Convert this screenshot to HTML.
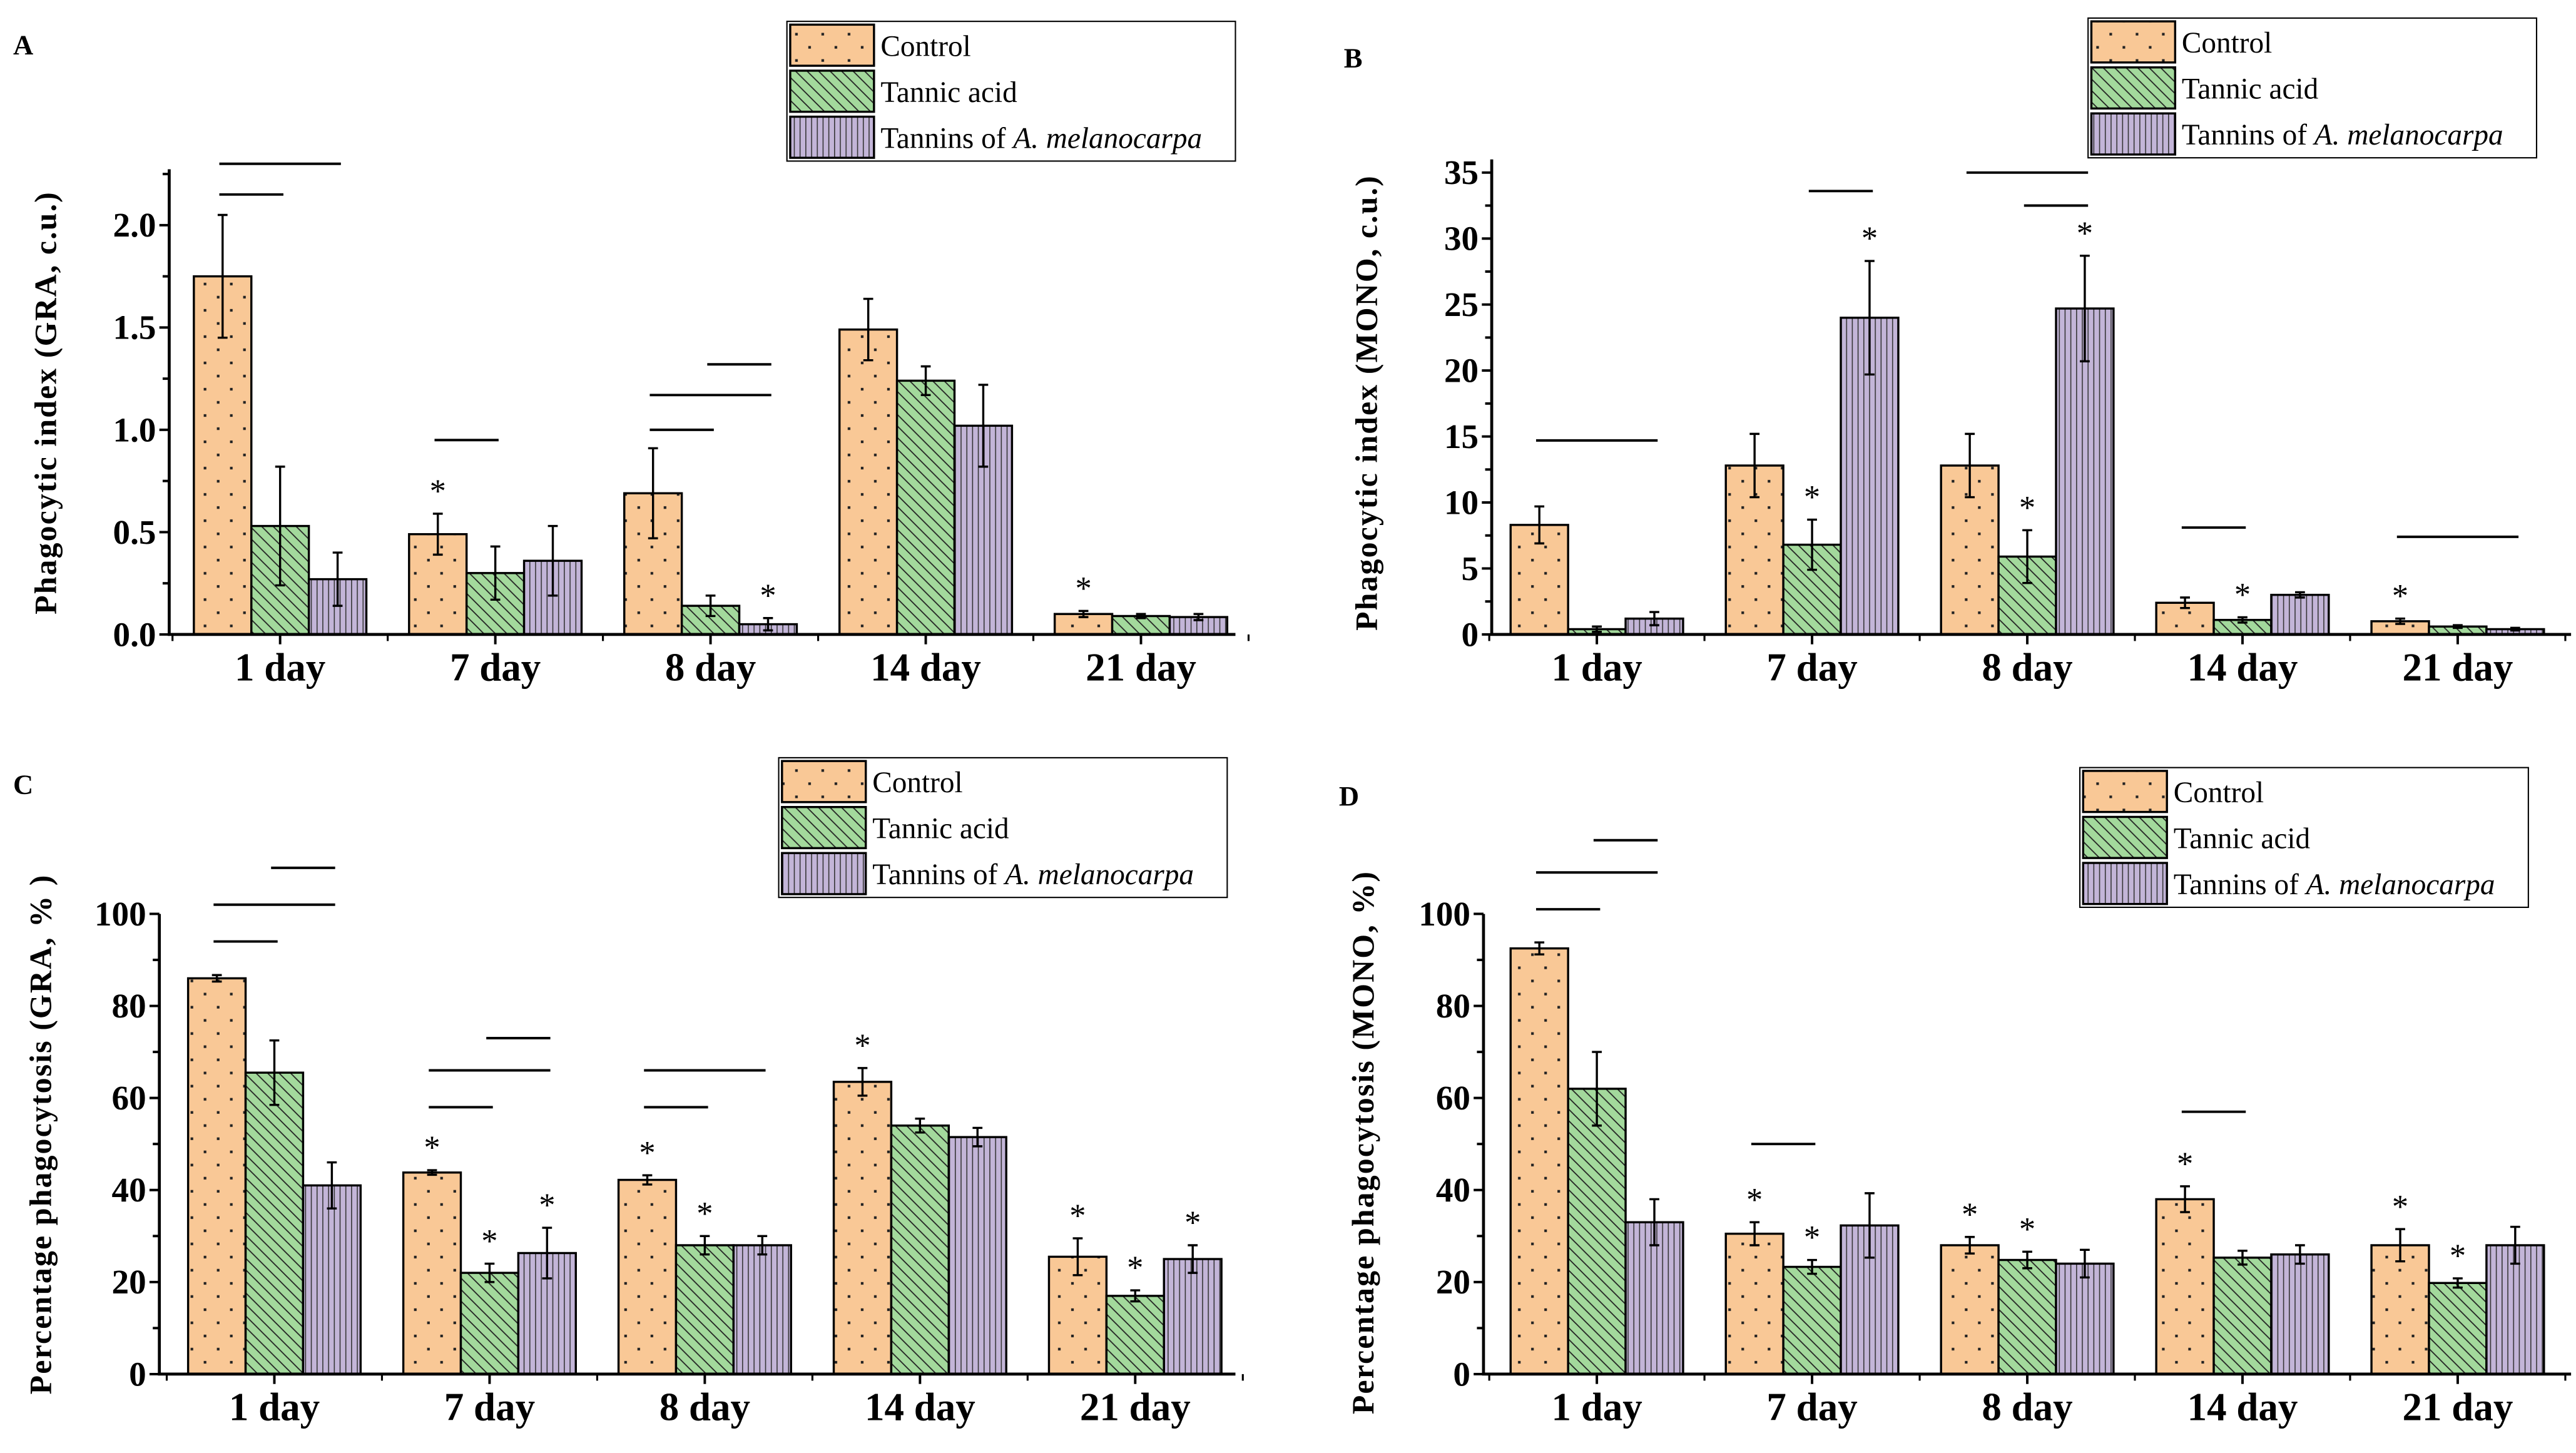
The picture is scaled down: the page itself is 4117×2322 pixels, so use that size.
<!DOCTYPE html>
<html><head><meta charset="utf-8"><title>Phagocytosis charts</title>
<style>html,body{margin:0;padding:0;background:#fff;}svg{display:block;}</style></head>
<body>
<svg id="fig" width="4117" height="2322" viewBox="0 0 1568 884" preserveAspectRatio="none" xmlns="http://www.w3.org/2000/svg" font-family="'Liberation Serif', serif">
<defs>
<pattern id="pDots" patternUnits="userSpaceOnUse" width="16" height="16"><rect width="16" height="16" fill="#F9C896"/><rect x="4" y="4" width="1.6" height="1.6" fill="#222"/><rect x="12" y="12" width="1.6" height="1.6" fill="#222"/></pattern>
<pattern id="pDiag" patternUnits="userSpaceOnUse" width="7" height="7"><rect width="7" height="7" fill="#A3D99C"/><path d="M-1,-1 L8,8 M-8,-1 L1,8 M6,-1 L15,8" stroke="#222" stroke-width="0.7"/></pattern>
<pattern id="pVert" patternUnits="userSpaceOnUse" width="3.5" height="10"><rect width="3.5" height="10" fill="#C3B5D8"/><line x1="0.5" y1="0" x2="0.5" y2="10" stroke="#333" stroke-width="0.6"/></pattern>
</defs>
</svg>
<script>
const categories = ["1 day","7 day","8 day","14 day","21 day"];
const seriesNames = ["Control","Tannic acid","Tannins of A. melanocarpa"];
// Panel A
const aControl = [1.75,0.49,0.69,1.49,0.10];
const aControlErr = [0.30,0.10,0.22,0.15,0.015];
const aTannic = [0.53,0.30,0.14,1.24,0.09];
const aTannicErr = [0.29,0.13,0.05,0.07,0.01];
const aTannins = [0.27,0.36,0.05,1.02,0.085];
const aTanninsErr = [0.13,0.17,0.03,0.20,0.015];
const aTicks = ["0.0","0.5","1.0","1.5","2.0"];
// Panel B
const bControl = [8.3,12.8,12.8,2.4,1.0];
const bControlErr = [1.4,2.4,2.4,0.4,0.2];
const bTannic = [0.4,6.8,5.9,1.1,0.6];
const bTannicErr = [0.2,1.9,2.0,0.2,0.1];
const bTannins = [1.2,24.0,24.7,3.0,0.4];
const bTanninsErr = [0.5,4.3,4.0,0.2,0.1];
const bTicks = ["0","5","10","15","20","25","30","35"];
// Panel C
const cControl = [86,43.8,42.2,63.5,25.5];
const cControlErr = [0.7,0.5,1,3,4];
const cTannic = [65.5,22,28,54,17];
const cTannicErr = [7,2,2,1.5,1.2];
const cTannins = [41,26.3,28,51.5,25];
const cTanninsErr = [5,5.5,2,2,3];
const cTicks = ["0","20","40","60","80","100"];
// Panel D
const dControl = [92.5,30.5,28,38,28];
const dControlErr = [1.3,2.5,1.8,2.8,3.5];
const dTannic = [62,23.3,24.8,25.3,19.8];
const dTannicErr = [8,1.5,1.8,1.5,1];
const dTannins = [33,32.3,24,26,28];
const dTanninsErr = [5,7,3,2,4];
const dTicks = ["0","20","40","60","80","100"];
// significance: [groupIndex, level(value), fromSeries, toSeries]
const aSig = [[0,2.3,0,2],[0,2.15,0,1],[1,0.95,0,1],[2,1.0,0,1],[2,1.17,0,2],[2,1.32,1,2]];
const bSig = [[0,14.7,0,2],[1,33.6,1,2],[2,35,0,2],[2,32.5,1,2],[3,8.1,0,1],[4,7.4,0,2]];
const cSig = [[0,94,0,1],[0,102,0,2],[0,110,1,2],[1,58,0,1],[1,66,0,2],[1,73,1,2],[2,58,0,1],[2,66,0,2]];
const dSig = [[0,101,0,1],[0,109,0,2],[0,116,1,2],[1,50,0,1],[3,57,0,1]];
// stars: [groupIndex, seriesIndex]
const aStars = [[1,0],[2,2],[4,0]];
const bStars = [[1,1],[1,2],[2,1],[2,2],[3,1],[4,0]];
const cStars = [[1,0],[1,1],[1,2],[2,0],[2,1],[3,0],[4,0],[4,1],[4,2]];
const dStars = [[1,0],[1,1],[2,0],[2,1],[3,0],[4,0],[4,1]];

const svg = document.getElementById('fig');
const NS = 'http://www.w3.org/2000/svg';
function mk(tag, attrs, parent){const e=document.createElementNS(NS,tag);for(const k in attrs)e.setAttribute(k,attrs[k]);(parent||svg).appendChild(e);return e;}
const fills=['url(#pDots)','url(#pDiag)','url(#pVert)'];

const panels = [
 {id:'a',letter:'A',lx:8,ly:33,x0:103,x1:752,y0:386,yTop:103,max:2.27,tickStep:0.5,minorStep:0.25,ticks:aTicks,g0:170.5,
  vals:[aControl,aTannic,aTannins],errs:[aControlErr,aTannicErr,aTanninsErr],sig:aSig,stars:aStars,
  ytitle:'Phagocytic index (GRA, c.u.)',tx:34,ty:245,leg:[479,13]},
 {id:'b',letter:'B',lx:818,ly:41,x0:908,x1:1565,y0:386,yTop:97,max:36,tickStep:5,minorStep:2.5,ticks:bTicks,g0:972,
  vals:[bControl,bTannic,bTannins],errs:[bControlErr,bTannicErr,bTanninsErr],sig:bSig,stars:bStars,
  ytitle:'Phagocytic index (MONO, c.u.)',tx:838,ty:245,leg:[1271,11]},
 {id:'c',letter:'C',lx:8,ly:483,x0:97,x1:752,y0:836,yTop:556,max:100,tickStep:20,minorStep:10,ticks:cTicks,g0:167,
  vals:[cControl,cTannic,cTannins],errs:[cControlErr,cTannicErr,cTanninsErr],sig:cSig,stars:cStars,
  ytitle:'Percentage phagocytosis (GRA, % )',tx:31,ty:690,leg:[474,461]},
 {id:'d',letter:'D',lx:815,ly:490,x0:903,x1:1565,y0:836,yTop:556,max:100,tickStep:20,minorStep:10,ticks:dTicks,g0:972,
  vals:[dControl,dTannic,dTannins],errs:[dControlErr,dTannicErr,dTanninsErr],sig:dSig,stars:dStars,
  ytitle:'Percentage phagocytosis  (MONO, %)',tx:836,ty:695,leg:[1266,467]}
];
const GAP=131, BW=35;

panels.forEach(p=>{
  const g=mk('g',{});
  
  
  const scale=(p.y0-(p.id==='a'?137:(p.id==='b'?105:556)))/(p.id==='a'?2:(p.id==='b'?35:100));
  const Y=v=>p.y0-v*scale;
  const X=(gi,si)=>p.g0+gi*GAP+(si-1)*BW; // center of bar
  const lt=mk('text',{x:p.lx,y:p.ly,'font-size':17,'font-weight':'bold'},g);lt.textContent=p.letter;
  
  // bars
  p.vals.forEach((arr,si)=>{arr.forEach((v,gi)=>{
    const r=mk('rect',{x:X(gi,si)-BW/2,y:Y(v),width:BW,height:p.y0-Y(v),fill:fills[si],stroke:'#000','stroke-width':1.3},g);
    
    
    const e=p.errs[si][gi],cx=X(gi,si);
    const eb=mk('path',{d:`M${cx},${Y(v+e)}V${Y(v-e)}M${cx-3},${Y(v+e)}H${cx+3}M${cx-3},${Y(v-e)}H${cx+3}`,stroke:'#000','stroke-width':1.3,fill:'none'},g);
    
  });});
  // sig lines
  p.sig.forEach(s=>{
    const l=mk('line',{x1:X(s[0],s[2])-2,x2:X(s[0],s[3])+2,y1:Y(s[1]),y2:Y(s[1]),stroke:'#000','stroke-width':1.5},g);
    
  });
  p.stars.forEach(s=>{
    const v=p.vals[s[1]][s[0]]+p.errs[s[1]][s[0]];
    const t=mk('text',{x:X(s[0],s[1]),y:Y(v)-7,'font-size':20,'text-anchor':'middle'},g);t.textContent='*';
    
  });
  // axes
  const ax=mk('path',{d:`M${p.x0},${p.yTop}V${p.y0}H${p.x1}`,stroke:'#000','stroke-width':1.8,fill:'none'},g);
  
  for(let v=0;v<=p.max+1e-9;v+=p.minorStep){
    const major=Math.abs(v/p.tickStep-Math.round(v/p.tickStep))<1e-6;
    mk('line',{x1:p.x0-(major?6:4),x2:p.x0,y1:Y(v),y2:Y(v),stroke:'#000','stroke-width':1.5},g);
  }
  p.ticks.forEach((lab,i)=>{
    const t=mk('text',{x:p.x0-8,y:Y(i*p.tickStep)+7,'font-size':21,'font-weight':'bold','text-anchor':'end'},g);t.textContent=lab;
    
  });
  categories.forEach((c,gi)=>{
    const cx=p.g0+gi*GAP;
    mk('line',{x1:cx,x2:cx,y1:p.y0,y2:p.y0+6,stroke:'#000','stroke-width':1.5},g);
    mk('line',{x1:cx+GAP/2,x2:cx+GAP/2,y1:p.y0,y2:p.y0+4,stroke:'#000','stroke-width':1.2},g);
    const t=mk('text',{x:cx,y:p.y0+28,'font-size':24,'font-weight':'bold','text-anchor':'middle'},g);t.textContent=c;
    
  });
  mk('line',{x1:p.g0-GAP/2,x2:p.g0-GAP/2,y1:p.y0,y2:p.y0+4,stroke:'#000','stroke-width':1.2},g);
  const yt=mk('text',{x:0,y:0,'font-size':19,'font-weight':'bold','text-anchor':'middle','letter-spacing':'0.8',transform:`translate(${p.tx},${p.ty}) rotate(-90)`},g);
  yt.textContent=p.ytitle;
  // legend
  const [lx,ly]=p.leg;
  const lg=mk('g',{},g);
  mk('rect',{x:lx,y:ly,width:273,height:85,fill:'#fff',stroke:'#000','stroke-width':0.8},lg);
  seriesNames.forEach((n,si)=>{
    const ry=ly+2+si*28;
    mk('rect',{x:lx+2,y:ry,width:51,height:25,fill:fills[si],stroke:'#000','stroke-width':1.3},lg);
    const t=mk('text',{x:lx+57,y:ry+19,'font-size':18},lg);
    
    if(si===2){t.innerHTML='Tannins of <tspan font-style="italic">A. melanocarpa</tspan>';}else t.textContent=n;
  });
});
</script>
</body></html>
